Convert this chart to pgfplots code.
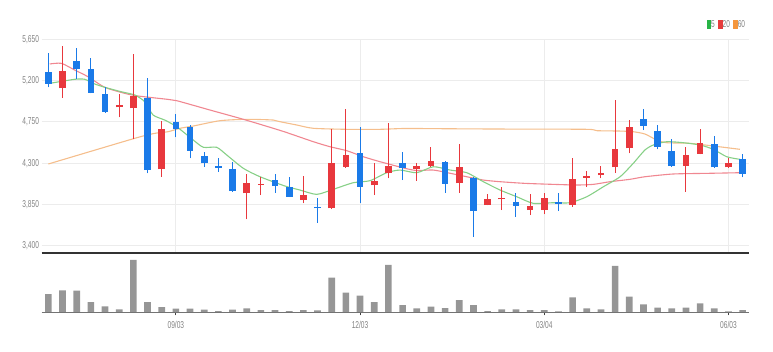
\documentclass[border=0pt]{standalone}
\usepackage{pgfplots}
\pgfplotsset{compat=1.18}
\usepackage{pgfplotstable}
\usepackage{fontspec}
\setmainfont{Liberation Sans}
\newfontfamily\lbl{Liberation Sans}[FakeStretch=0.66]
\definecolor{cred}{RGB}{232,56,61}
\definecolor{cblue}{RGB}{26,122,232}
\definecolor{mafive}{RGB}{135,208,135}
\definecolor{matwenty}{RGB}{240,135,145}
\definecolor{masixty}{RGB}{245,190,140}
\definecolor{lgreen}{RGB}{40,180,70}
\definecolor{lred}{RGB}{230,60,60}
\definecolor{lorange}{RGB}{245,150,60}
\definecolor{gridc}{RGB}{236,236,236}
\definecolor{sepc}{RGB}{50,50,50}
\definecolor{volc}{RGB}{150,150,150}
\definecolor{labc}{RGB}{130,130,130}

\pgfplotstableread{
i o h l c
1 5116 5577 5013 5304
5 4909 5050 4800 4931
6 4898 5490 4560 5035
8 4233 4763 4152 4672
14 3971 4182 3688 4080
15 4062 4152 3953 4076
18 3898 4163 3862 3953
20 3808 4672 3800 4305
21 4261 4887 4250 4389
23 4059 4298 3953 4105
24 4189 4734 4135 4272
26 4236 4305 4109 4272
27 4269 4479 4260 4323
29 4080 4505 3978 4255
31 3844 3960 3840 3906
32 3906 4043 3789 3923
34 3789 3960 3735 3833
35 3789 3971 3742 3917
37 3844 4359 3825 4127
38 4141 4214 4043 4163
39 4168 4269 4135 4189
40 4255 4988 4196 4454
41 4462 4770 4407 4697
45 4272 4479 3989 4389
46 4400 4672 4395 4516
48 4255 4353 4250 4305
}\upt

\pgfplotstableread{
i o h l c
0 5297 5497 5127 5163
2 5413 5552 5214 5323
3 5326 5450 5061 5068
4 5050 5133 4850 4861
7 5013 5225 4189 4225
9 4749 4836 4582 4669
10 4697 4716 4353 4433
11 4381 4425 4261 4298
12 4269 4353 4207 4247
13 4233 4316 3990 3996
16 4116 4182 3978 4051
17 4043 4152 3930 3934
19 3825 3917 3651 3808
22 4407 4697 3862 4043
25 4305 4425 4116 4244
28 4316 4320 3978 4073
30 4135 4152 3498 3778
33 3880 3978 3716 3833
36 3873 3971 3778 3858
42 4778 4890 4661 4708
43 4654 4716 4451 4479
44 4436 4563 4261 4269
47 4505 4596 4250 4255
49 4345 4400 4146 4182
}\downt

\pgfplotstableread{
x y
0.1 5170
1.86 5214
2.57 5214
3.15 5170
3.98 5127
5.13 5079
6.1 5043
6.8 4970
7.39 4825
8.21 4770
9.06 4697
10.23 4552
10.94 4473
11.88 4473
12.59 4389
13.76 4244
14.94 4152
16.7 4051
17.76 4007
18.94 3960
20.11 4015
21.52 4087
22.7 4109
23.88 4196
24.82 4225
26 4196
27.17 4261
28.35 4225
29.53 4196
30.7 4098
31.88 4007
33.06 3934
34.23 3862
35.64 3869
36.82 3869
38 3934
39.17 4043
40.35 4152
41.28 4298
42.1 4443
42.7 4498
43.64 4534
44.81 4523
46 4498
46.93 4451
47.88 4370
48.81 4342
}\mafivet

\pgfplotstableread{
x y
0.1 5381
0.92 5388
1.86 5315
2.8 5242
3.98 5127
5.39 5061
6.33 5032
8.45 4995
9.06 4981
11.41 4879
13.76 4778
16.5 4650
18.7 4534
19.88 4479
21.06 4436
22.23 4370
23.41 4316
25.17 4244
26 4220
27.17 4225
28.35 4190
29.53 4152
30.7 4116
31.88 4098
33.64 4080
35.64 4069
37.29 4062
38.46 4069
39.64 4098
41.05 4124
42.1 4152
44.1 4182
46.46 4189
48.81 4196
}\matwentyt

\pgfplotstableread{
x y
0 4291
6.1 4571
7.51 4625
8.45 4643
9.29 4680
10.23 4705
12.12 4763
14 4778
15.88 4770
16.35 4752
17.53 4716
18.7 4680
21.06 4669
23.41 4669
25.17 4678
28.35 4675
31.88 4672
38 4669
38.7 4654
40.35 4650
41.26 4643
42.1 4618
42.94 4552
43.64 4523
45.29 4516
46.93 4487
48.81 4451
}\masixtyt

\pgfplotstableread{
i v
0 18.3
1 22
2 21.7
3 10.3
4 6
5 3
6 52.3
7 10.3
8 5.3
9 3.6
10 3.6
11 2.6
12 1.3
13 2.6
14 4
15 2.3
16 2.3
17 1.3
18 2.3
19 2
20 34.6
21 19.6
22 16.6
23 10.3
24 47.3
25 7.3
26 4
27 5.6
28 4.3
29 12.3
30 7.3
31 1.3
32 3
33 3
34 2.3
35 2.3
36 1
37 15
38 4
39 3
40 46.3
41 15.6
42 8
43 4.6
44 4
45 4.6
46 9
47 4
48 1
49 2.3
}\volt

\begin{document}
\begin{tikzpicture}
\useasboundingbox (0,0) rectangle (773pt,351pt);
\begin{axis}[
  at={(41.7pt,98pt)}, anchor=south west,
  scale only axis, width=707.3pt, height=213.7pt,
  xmin=-0.47, xmax=49.45, ymin=3321, ymax=5650,
  axis line style={draw=none},
  major tick length=0pt,
  xtick={9,22,35,48}, xticklabels=\empty,
  ytick={3400,3850,4300,4750,5200,5650},
  yticklabels={{3,400},{3,850},{4,300},{4,750},{5,200},{5,650}},
  yticklabel style={anchor=east, inner sep=0pt, xshift=-2.5pt, font=\lbl\fontsize{10}{10}\selectfont, text=labc},
  grid=major, grid style={draw=gridc, line width=0.9pt},
  clip=false,
  legend style={at={(1,1)}, anchor=east, xshift=-3pt, yshift=14.8pt, draw=none, fill=none, inner sep=0pt,
    font=\lbl\fontsize{10}{10}\selectfont, text=labc,
    /tikz/every even column/.append style={column sep=2.5pt},
    nodes={inner sep=0.7pt}},
  legend columns=-1,
]
\addlegendimage{legend image code/.code={\fill[lgreen] (0pt,-3.8pt) rectangle (3.5pt,3.8pt);}}
\addlegendentry{5}
\addlegendimage{legend image code/.code={\fill[lred] (0pt,-3.8pt) rectangle (3.5pt,3.8pt);}}
\addlegendentry{20}
\addlegendimage{legend image code/.code={\fill[lorange] (0pt,-3.8pt) rectangle (3.5pt,3.8pt);}}
\addlegendentry{60}

\addplot[forget plot, masixty, line width=1.1pt, mark=none, smooth, tension=0.4] table[x=x,y=y] {\masixtyt};
\addplot[forget plot, matwenty, line width=1.1pt, mark=none, smooth, tension=0.4] table[x=x,y=y] {\matwentyt};
\addplot[forget plot, mafive, line width=1.1pt, mark=none, smooth, tension=0.4] table[x=x,y=y] {\mafivet};

% wicks
\addplot[forget plot, draw=none, mark=none, error bars/.cd, y dir=plus, y explicit, error mark=none,
  error bar style={draw=cred, line width=1pt}]
  table[x=i, y=l, y error plus expr=\thisrow{h}-\thisrow{l}] {\upt};
\addplot[forget plot, draw=none, mark=none, error bars/.cd, y dir=plus, y explicit, error mark=none,
  error bar style={draw=cblue, line width=1pt}]
  table[x=i, y=l, y error plus expr=\thisrow{h}-\thisrow{l}] {\downt};
% bodies
\addplot[forget plot, draw=none, mark=none, error bars/.cd, y dir=plus, y explicit, error mark=none,
  error bar style={draw=cred, line width=6.6pt}]
  table[x=i, y=o, y error plus expr=\thisrow{c}-\thisrow{o}] {\upt};
\addplot[forget plot, draw=none, mark=none, error bars/.cd, y dir=plus, y explicit, error mark=none,
  error bar style={draw=cblue, line width=6.6pt}]
  table[x=i, y=c, y error plus expr=\thisrow{o}-\thisrow{c}] {\downt};

\draw[sepc, line width=1.8pt] (rel axis cs:0,0) -- (rel axis cs:1,0);
\end{axis}

\begin{axis}[
  at={(41.7pt,38.7pt)}, anchor=south west,
  scale only axis, width=707.3pt, height=59.3pt,
  xmin=-0.47, xmax=49.45, ymin=0, ymax=59.3,
  axis line style={draw=none},
  ytick=\empty,
  xtick={9,22,35,48}, xticklabels={09/03,12/03,03/04,06/03},
  xtick pos=bottom, tick align=outside, major tick length=3pt,
  tick style={draw=black!75, line width=0.8pt},
  xticklabel style={anchor=north, inner sep=0pt, yshift=-6pt, font=\lbl\fontsize{10}{10}\selectfont, text=labc},
  clip=false,
]
\addplot[ybar, bar width=0.47, fill=volc, draw=none] table[x=i,y=v] {\volt};
\draw[black!55, line width=1.2pt] (rel axis cs:0,0) -- (rel axis cs:1,0);
\end{axis}
\end{tikzpicture}
\end{document}
